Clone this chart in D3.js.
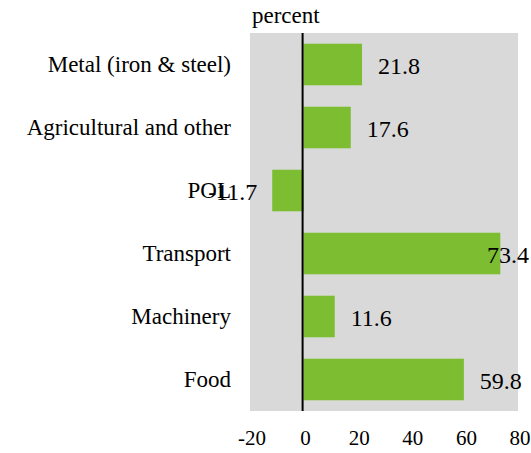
<!DOCTYPE html>
<html>
<head>
<meta charset="utf-8">
<script src="https://cdn.jsdelivr.net/npm/d3@7"></script>
<style>
  body { margin: 0; background: #fff; }
</style>
</head>
<body>
<div id="chart"></div>
<script>
const categories = ['Metal (iron & steel)', 'Agricultural and other', 'POL', 'Transport', 'Machinery', 'Food'];
const values = [21.8, 17.6, -11.7, 73.4, 11.6, 59.8];
const ticks = [-20, 0, 20, 40, 60, 80];
const unit = 'percent';

const W = 531, H = 453;
const svg = d3.select('#chart').append('svg')
  .attr('width', W).attr('height', H)
  .attr('font-family', "'Liberation Serif', 'Times New Roman', 'DejaVu Serif', serif");

const x = d3.scaleLinear().domain([-20, 80]).range([250, 518]);
const y = d3.scaleBand().domain(categories).range([33, 411]).paddingInner(0.34).paddingOuter(0.17);

// plot background
svg.append('rect')
  .attr('x', x(-20)).attr('y', 33)
  .attr('width', x(80) - x(-20)).attr('height', 411 - 33)
  .attr('fill', '#d9d9d9');

// bars
svg.selectAll('rect.bar').data(values).enter()
  .append('rect').attr('class', 'bar')
  .attr('x', d => x(Math.min(0, d)))
  .attr('y', (d, i) => y(categories[i]))
  .attr('width', d => Math.abs(x(d) - x(0)))
  .attr('height', y.bandwidth())
  .attr('fill', '#7cbd32');

// zero line
svg.append('line')
  .attr('x1', x(0) - 1).attr('x2', x(0) - 1)
  .attr('y1', 33).attr('y2', 411)
  .attr('stroke', '#000').attr('stroke-width', 2);

// category labels
svg.selectAll('text.cat').data(categories).enter()
  .append('text').attr('class', 'cat')
  .attr('x', 231)
  .attr('y', d => y(d) + y.bandwidth() / 2 + 7)
  .attr('text-anchor', 'end')
  .attr('font-size', 23)
  .text(d => d);

// value labels
svg.selectAll('text.val').data(values).enter()
  .append('text').attr('class', 'val')
  .attr('y', (d, i) => y(categories[i]) + y.bandwidth() / 2 + 9)
  .attr('font-size', 24)
  .text(d => d.toFixed(1))
  .each(function(d) {
    let t = d3.select(this), w = this.getComputedTextLength();
    if (d < 0) t.attr('text-anchor', 'end').attr('x', x(d) - 15);
    else t.attr('x', Math.min(x(d) + 16, W - 2 - w));
  });

// x tick labels
svg.selectAll('text.tick').data(ticks).enter()
  .append('text').attr('class', 'tick')
  .attr('x', d => x(d) + 2)
  .attr('y', 445)
  .attr('text-anchor', 'middle')
  .attr('font-size', 21)
  .text(d => d);

svg.append('text')
  .attr('x', 252).attr('y', 23)
  .attr('font-size', 23)
  .text(unit);
</script>
</body>
</html>
